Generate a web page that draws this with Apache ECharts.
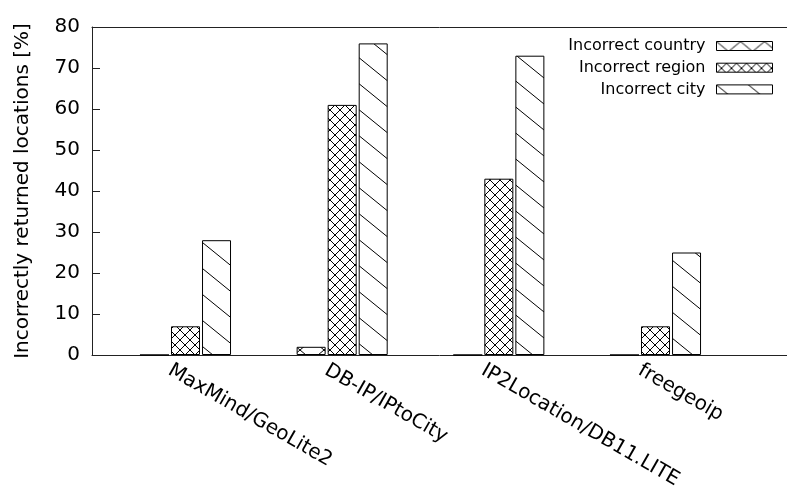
<!DOCTYPE html>
<html>
<head>
<meta charset="utf-8">
<script src="https://cdn.jsdelivr.net/npm/echarts@6/dist/echarts.min.js"></script>
<style>html,body{margin:0;padding:0;background:#fff;}#c{width:787px;height:487px;}</style>
</head>
<body>
<div id="c"></div>
<script>
const categories = ['MaxMind/GeoLite2', 'DB-IP/IPtoCity', 'IP2Location/DB11.LITE', 'freegeoip'];
const seriesNames = ['Incorrect country', 'Incorrect region', 'Incorrect city'];
const countryVals = [0, 2, 0, 0];
const regionVals = [7, 61, 43, 7];
const cityVals = [28, 76, 73, 25];
const yMin = 0, yMax = 80, yStep = 10;

function hatch(w, h, dirs) {
  const c = document.createElement('canvas');
  c.width = w; c.height = h;
  const g = c.getContext('2d');
  g.fillStyle = '#fff'; g.fillRect(0, 0, w, h);
  g.strokeStyle = '#000'; g.lineWidth = 1;
  for (const dx of [-w, 0, w]) for (const dy of [-h, 0, h]) {
    g.beginPath();
    if (dirs.includes('b')) { g.moveTo(dx, dy); g.lineTo(dx + w, dy + h); }
    if (dirs.includes('f')) { g.moveTo(dx, dy + h); g.lineTo(dx + w, dy); }
    g.stroke();
  }
  return c;
}
const patCountry = { image: hatch(24, 20, 'bf'), repeat: 'repeat' };
const patRegion = { image: hatch(10, 10, 'bf'), repeat: 'repeat' };
const patCity = { image: hatch(32, 26, 'b'), repeat: 'repeat' };

const FONT = 'DejaVu Sans';
const chart = echarts.init(document.getElementById('c'), null, { renderer: 'canvas' });
const plotTop = 27, plotBottom = 487 - 355;
const band = 156.67;
const barLeft = 185.5 - band / 2;
const labelShift = 16;

function barSeries(name, vals, pat) {
  return {
    name: name, type: 'bar', xAxisIndex: 1, yAxisIndex: 1,
    data: vals, barWidth: 29, barGap: '7%',
    itemStyle: { color: pat, borderColor: '#000', borderWidth: 1 },
    emphasis: { disabled: true }, animation: false
  };
}

chart.setOption({
  animation: false,
  backgroundColor: '#fff',
  grid: [
    { left: 92, right: 0, top: plotTop, bottom: plotBottom, outerBoundsMode: 'none', containLabel: false },
    { left: barLeft, width: band * categories.length, top: plotTop, bottom: plotBottom, outerBoundsMode: 'none', containLabel: false },
    { left: barLeft - labelShift, width: band * categories.length, top: plotTop, bottom: plotBottom, outerBoundsMode: 'none', containLabel: false }
  ],
  legend: {
    orient: 'vertical', right: 9, top: 33, align: 'right',
    icon: 'rect', itemWidth: 56, itemHeight: 9, itemGap: 5.7,
    data: seriesNames,
    itemStyle: { borderColor: '#000', borderWidth: 1 },
    textStyle: { fontFamily: FONT, fontSize: 16, color: '#000', lineHeight: 16, padding: [0, 6, 0, 0] }
  },
  xAxis: [
    { gridIndex: 0, type: 'value', min: 0, max: 1, position: 'bottom',
      axisLine: { show: true, lineStyle: { color: '#222', width: 1 } },
      axisTick: { show: false }, axisLabel: { show: false }, splitLine: { show: false } },
    { gridIndex: 1, type: 'category', data: categories, position: 'bottom',
      axisLine: { show: false }, axisTick: { show: false }, axisLabel: { show: false } },
    { gridIndex: 2, type: 'category', data: categories, position: 'bottom',
      axisLine: { show: false }, axisTick: { show: false },
      axisLabel: { show: true, interval: 0, rotate: -30, margin: 14, fontFamily: FONT, fontSize: 20, color: '#000', hideOverlap: false } },
    { gridIndex: 0, type: 'value', min: 0, max: 1, position: 'top',
      axisLine: { show: true, lineStyle: { color: '#222', width: 1 } },
      axisTick: { show: false }, axisLabel: { show: false }, splitLine: { show: false } }
  ],
  yAxis: [
    { gridIndex: 0, type: 'value', min: yMin, max: yMax, interval: yStep,
      name: 'Incorrectly returned locations [%]', nameLocation: 'middle', nameGap: 59,
      nameTextStyle: { fontFamily: FONT, fontSize: 20, color: '#000' },
      axisLine: { show: true, lineStyle: { color: '#222', width: 1 } },
      axisTick: { show: true, inside: true, length: 8, lineStyle: { color: '#222' } },
      axisLabel: { fontFamily: FONT, fontSize: 20, color: '#000', margin: 12 },
      splitLine: { show: false } },
    { gridIndex: 1, type: 'value', min: yMin, max: yMax, interval: yStep, show: false },
    { gridIndex: 2, type: 'value', min: yMin, max: yMax, interval: yStep, show: false }
  ],
  series: [
    barSeries(seriesNames[0], countryVals, patCountry),
    barSeries(seriesNames[1], regionVals, patRegion),
    barSeries(seriesNames[2], cityVals, patCity)
  ]
});
</script>
</body>
</html>
